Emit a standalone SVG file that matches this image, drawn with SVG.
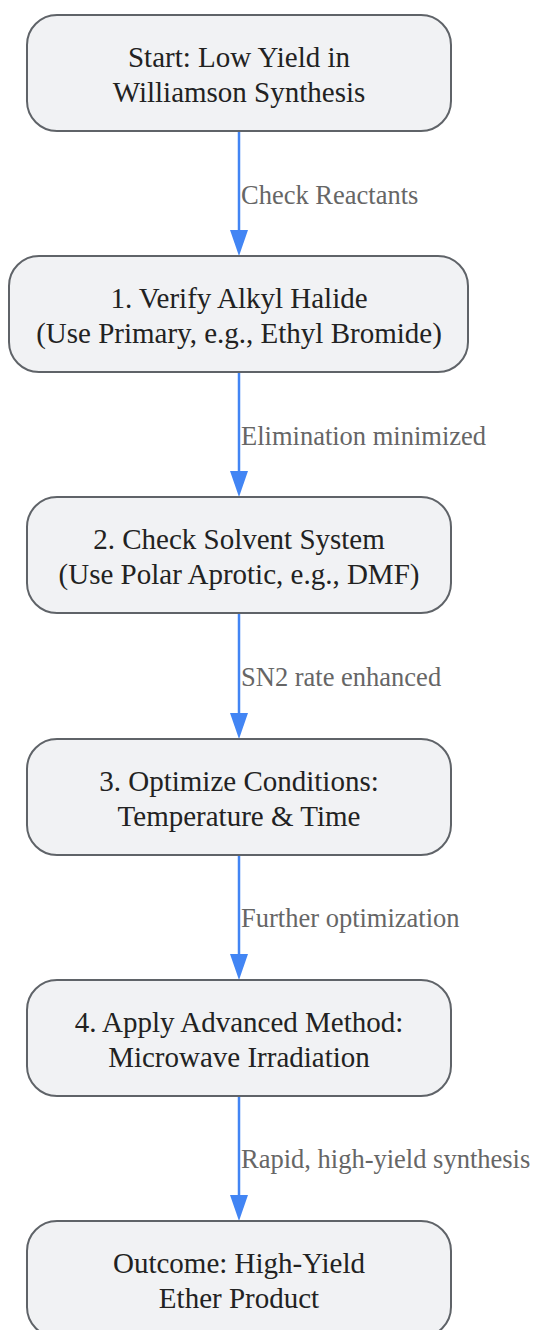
<svg xmlns="http://www.w3.org/2000/svg" width="537" height="1330" viewBox="0 0 537 1330">
<style>
.node rect{fill:#f1f2f4;stroke:#5f6368;stroke-width:2}
.node text{font-family:"Liberation Serif","Times New Roman",serif;font-size:29px;fill:#222;text-anchor:middle}
.edge line{stroke:#4285f4;stroke-width:2.5}
.edge path{fill:#4285f4}
.lbl{font-family:"Liberation Serif","Times New Roman",serif;font-size:26.5px;fill:#666}
</style>
<g id="connectors" class="edge">
<line x1="239" y1="131" x2="239" y2="232"/><path d="M230,230 L248,230 L239,256 z"/>
<line x1="239" y1="372" x2="239" y2="473"/><path d="M230,471 L248,471 L239,497 z"/>
<line x1="239" y1="613" x2="239" y2="715"/><path d="M230,713 L248,713 L239,739 z"/>
<line x1="239" y1="855" x2="239" y2="956"/><path d="M230,954 L248,954 L239,980 z"/>
<line x1="239" y1="1096" x2="239" y2="1197"/><path d="M230,1195 L248,1195 L239,1221 z"/>
<text class="lbl" x="241" y="204">Check Reactants</text>
<text class="lbl" x="241" y="445">Elimination minimized</text>
<text class="lbl" x="241" y="686">SN2 rate enhanced</text>
<text class="lbl" x="241" y="927">Further optimization</text>
<text class="lbl" x="241" y="1168">Rapid, high-yield synthesis</text>
</g>
<g id="start" class="node"><rect x="27" y="15" width="424" height="116" rx="30"/><text x="239" y="67">Start: Low Yield in</text><text x="239" y="102">Williamson Synthesis</text></g>
<g id="step1" class="node"><rect x="9" y="256" width="459" height="116" rx="30"/><text x="239" y="308">1. Verify Alkyl Halide</text><text x="239" y="343">(Use Primary, e.g., Ethyl Bromide)</text></g>
<g id="step2" class="node"><rect x="27" y="497" width="424" height="116" rx="30"/><text x="239" y="549">2. Check Solvent System</text><text x="239" y="584">(Use Polar Aprotic, e.g., DMF)</text></g>
<g id="step3" class="node"><rect x="27" y="739" width="424" height="116" rx="30"/><text x="239" y="791">3. Optimize Conditions:</text><text x="239" y="826">Temperature &amp; Time</text></g>
<g id="step4" class="node"><rect x="27" y="980" width="424" height="116" rx="30"/><text x="239" y="1032">4. Apply Advanced Method:</text><text x="239" y="1067">Microwave Irradiation</text></g>
<g id="outcome" class="node"><rect x="27" y="1221" width="424" height="116" rx="30"/><text x="239" y="1273">Outcome: High-Yield</text><text x="239" y="1308">Ether Product</text></g>
</svg>
